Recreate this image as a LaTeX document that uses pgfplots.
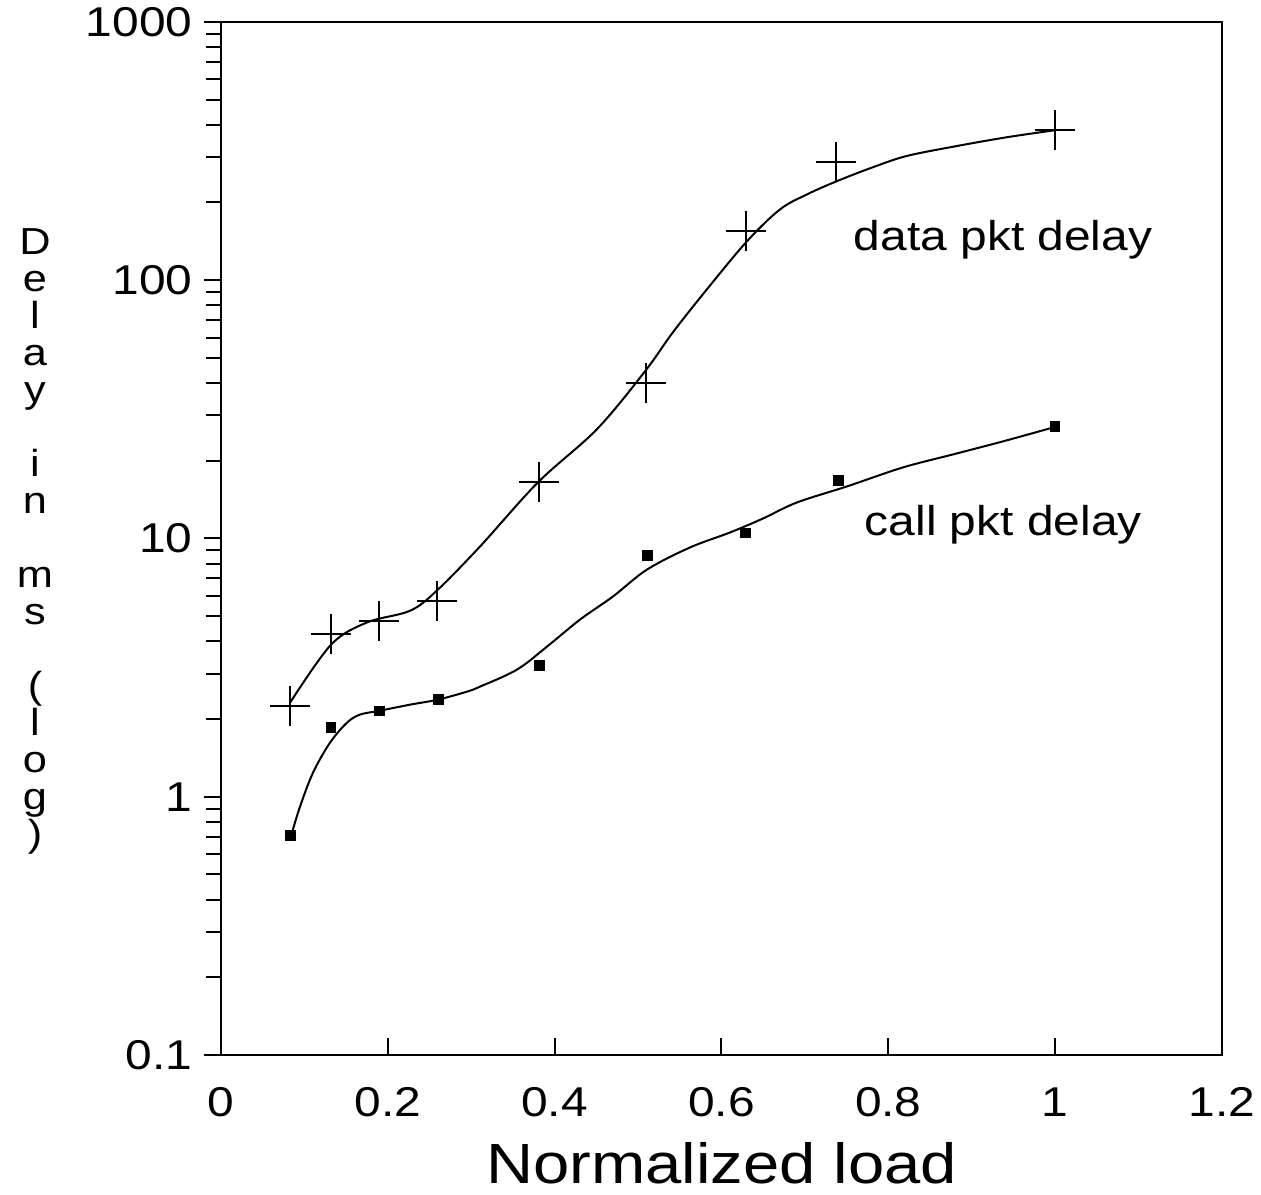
\documentclass[border=0pt]{standalone}
\usepackage{pgfplots}
\pgfplotsset{compat=1.18}
\usepackage{fontspec}
\setmainfont{Liberation Sans}[FakeStretch=1.15]
\begin{document}
\begin{tikzpicture}
\begin{axis}[
  at={(0pt,0pt)}, anchor=south west,
  scale only axis,
  width=300.3pt, height=309.9pt,
  xmin=0, xmax=1.2,
  ymode=log, ymin=0.1, ymax=1000,
  xtick={0,0.2,0.4,0.6,0.8,1,1.2},
  ytick={0.1,1,10,100,1000},
  log ticks with fixed point,
  /pgf/number format/1000 sep={},
  /pgf/number format/assume math mode=true,
  xtick pos=bottom, ytick pos=left,
  xtick align=inside, ytick align=outside,
  major tick length=5pt, minor tick length=4.5pt,
  axis line style={line width=0.7pt},
  every tick/.style={black, line width=0.6pt},
  tick label style={font=\fontsize{12.5}{14}\selectfont},
  xticklabel style={anchor=base, yshift=-18.6pt},
  xlabel={Normalized load},
  xlabel style={font=\fontsize{17}{19}\selectfont, at={(axis description cs:0.5,0)}, anchor=base, yshift=-38.5pt},
  clip=false,
]
% fitted curves
\addplot[black, line width=0.6pt, smooth, tension=0.55] coordinates {
 (0.0827,2.31) (0.1319,3.88) (0.175,4.73) (0.2266,5.25) (0.2589,6.29)
 (0.3105,9.31) (0.380,16.5) (0.4507,26.5) (0.5083,44.4) (0.5418,62.9)
 (0.5826,92.3) (0.6306,141.6) (0.6701,188) (0.7025,215) (0.7385,242)
 (0.7816,274) (0.8224,303) (0.8823,331) (0.9423,358) (0.9998,381)
};
\addplot[black, line width=0.6pt, smooth, tension=0.55] coordinates {
 (0.0851,0.725) (0.0947,0.915) (0.1103,1.239) (0.1307,1.62) (0.1510,1.935)
 (0.1666,2.08) (0.1906,2.154) (0.2266,2.273) (0.2601,2.377) (0.2949,2.553)
 (0.3105,2.669) (0.3548,3.106) (0.3908,3.814) (0.4304,4.853) (0.4699,5.962)
 (0.5107,7.58) (0.5622,9.23) (0.6102,10.55) (0.6497,11.95) (0.6905,13.79)
 (0.7504,15.91) (0.8176,18.85) (0.8775,21.16) (0.9374,23.77) (0.9974,26.9)
};
% measured points
\addplot[only marks, mark=+, mark size=6pt, mark options={line width=0.6pt}, black] coordinates {
 (0.083,2.25) (0.132,4.28) (0.19,4.81) (0.259,5.75) (0.381,16.6)
 (0.509,39.9) (0.629,155) (0.737,287) (1.0,381)
};
\addplot[only marks, mark=square*, mark size=1.4pt, black] coordinates {
 (0.083,0.706) (0.132,1.85) (0.19,2.15) (0.261,2.38) (0.382,3.22)
 (0.511,8.59) (0.629,10.5) (0.740,16.8) (1.0,27.2)
};
\node[anchor=west, font=\fontsize{12.5}{14}\selectfont, inner sep=0pt] at (axis cs:0.758,144) {data pkt delay};
\node[anchor=west, font=\fontsize{12.5}{14}\selectfont, inner sep=0pt] at (axis cs:0.771,11.3) {call pkt delay};
\end{axis}
\node[align=center, font=\fontsize{11.3}{11.1}\selectfont, inner sep=0pt] at (-55.8pt,154.2pt)
 {D\\e\\l\\a\\y\\\mbox{}\\i\\n\\\mbox{}\\m\\s\\\mbox{}\\(\\l\\o\\g\\)};
\pgfresetboundingbox
\path[use as bounding box] (-66.3pt,-42pt) rectangle (312pt,316.5pt);
\end{tikzpicture}
\end{document}
